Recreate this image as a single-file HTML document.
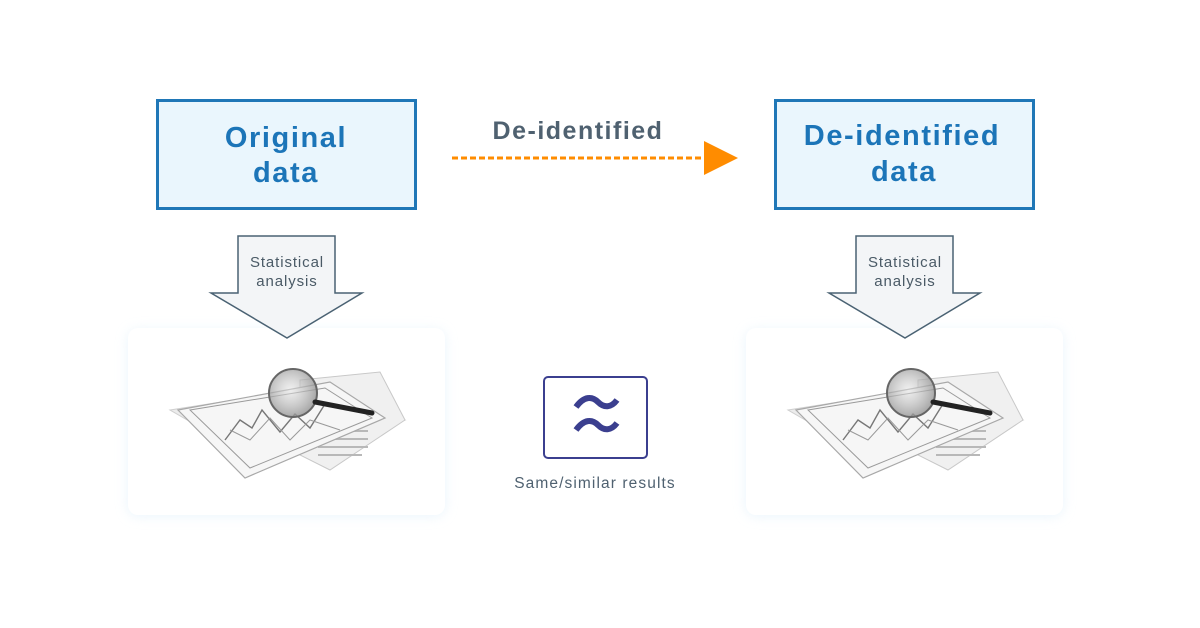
<!DOCTYPE html>
<html><head><meta charset="utf-8"><style>
html,body{margin:0;padding:0;background:#fff;}
svg{display:block;font-family:"Liberation Sans",sans-serif;}
</style></head><body>
<svg width="1200" height="628" viewBox="0 0 1200 628" xmlns="http://www.w3.org/2000/svg">
<defs>
<filter id="sh" x="-10%" y="-10%" width="120%" height="120%"><feGaussianBlur stdDeviation="6"/></filter>
<radialGradient id="lens" cx="0.45" cy="0.45" r="0.6"><stop offset="0" stop-color="#e4e4e4" stop-opacity="0.5"/><stop offset="1" stop-color="#8a8a8a" stop-opacity="0.8"/></radialGradient>
<g id="pic">
 <polygon points="170,410 330,385 405,420 260,462" fill="#ececec" stroke="#cfcfcf"/>
 <polygon points="300,380 380,372 405,420 330,470 300,455" fill="#f0f0f0" stroke="#c8c8c8"/>
 <g fill="#b8b8b8"><rect x="318" y="430" width="50" height="2"/><rect x="318" y="438" width="50" height="2"/><rect x="318" y="446" width="50" height="2"/><rect x="318" y="454" width="44" height="2"/></g>
 <polygon points="178,410 330,382 385,418 245,478" fill="#f6f6f6" stroke="#a8a8a8" stroke-width="1.2"/>
 <polygon points="190,410 325,388 372,418 250,468" fill="none" stroke="#9a9a9a"/>
 <polyline points="225,440 240,420 252,428 262,410 280,432 295,414 310,428 325,404" fill="none" stroke="#777" stroke-width="1.4"/>
 <polyline points="230,430 250,440 270,418 290,440 310,420 340,430" fill="none" stroke="#999" stroke-width="1"/>
 <circle cx="293" cy="393" r="24" fill="url(#lens)" stroke="#666" stroke-width="2"/>
 <line x1="315" y1="402" x2="372" y2="413" stroke="#222" stroke-width="5" stroke-linecap="round"/>
</g>
</defs>

<rect x="157.5" y="100.5" width="258" height="108" fill="#eaf6fd" stroke="#1f77b7" stroke-width="3"/>
<text x="286" y="147" text-anchor="middle" font-size="29" font-weight="bold" fill="#1c75b8" letter-spacing="1.6">Original</text>
<text x="286" y="182" text-anchor="middle" font-size="29" font-weight="bold" fill="#1c75b8" letter-spacing="1.6">data</text>

<rect x="775.5" y="100.5" width="258" height="108" fill="#eaf6fd" stroke="#1f77b7" stroke-width="3"/>
<text x="902" y="145" text-anchor="middle" font-size="29" font-weight="bold" fill="#1c75b8" letter-spacing="1.6">De-identified</text>
<text x="904" y="181" text-anchor="middle" font-size="29" font-weight="bold" fill="#1c75b8" letter-spacing="1.6">data</text>

<text x="578" y="139" text-anchor="middle" font-size="25" font-weight="bold" fill="#4f6170" letter-spacing="1.5">De-identified</text>
<line x1="452" y1="158" x2="706" y2="158" stroke="#ff8c00" stroke-width="3" stroke-dasharray="6,3"/>
<polygon points="704,141 738,158 704,175" fill="#ff8c00"/>

<rect x="128" y="330" width="317" height="186" rx="10" fill="#dceefa" opacity="0.6" filter="url(#sh)"/>
<rect x="128" y="328" width="317" height="187" rx="10" fill="#fff"/>
<rect x="746" y="330" width="317" height="186" rx="10" fill="#dceefa" opacity="0.6" filter="url(#sh)"/>
<rect x="746" y="328" width="317" height="187" rx="10" fill="#fff"/>
<use href="#pic"/>
<use href="#pic" transform="translate(618,0)"/>

<polygon points="238,236 335,236 335,293 362,293 287,338 211,293 238,293" fill="#f3f5f7" stroke="#4a6273" stroke-width="1.5"/>
<text x="287" y="267" text-anchor="middle" font-size="15" fill="#4a5a66" letter-spacing="0.9">Statistical</text>
<text x="287" y="286" text-anchor="middle" font-size="15" fill="#4a5a66" letter-spacing="0.9">analysis</text>
<polygon points="856,236 953,236 953,293 980,293 905,338 829,293 856,293" fill="#f3f5f7" stroke="#4a6273" stroke-width="1.5"/>
<text x="905" y="267" text-anchor="middle" font-size="15" fill="#4a5a66" letter-spacing="0.9">Statistical</text>
<text x="905" y="286" text-anchor="middle" font-size="15" fill="#4a5a66" letter-spacing="0.9">analysis</text>

<rect x="544" y="377" width="103" height="81" rx="4" fill="#fff" stroke="#3b3f8f" stroke-width="2"/>
<path d="M576,407 C584,396 592,396 598,402 C604,408 611,408 617,400" fill="none" stroke="#3b3f8f" stroke-width="6"/>
<path d="M576,430 C584,419 592,419 598,425 C604,431 611,431 617,423" fill="none" stroke="#3b3f8f" stroke-width="6"/>
<text x="595" y="488" text-anchor="middle" font-size="15.5" fill="#4f6170" letter-spacing="1.1">Same/similar results</text>
</svg>
</body></html>
